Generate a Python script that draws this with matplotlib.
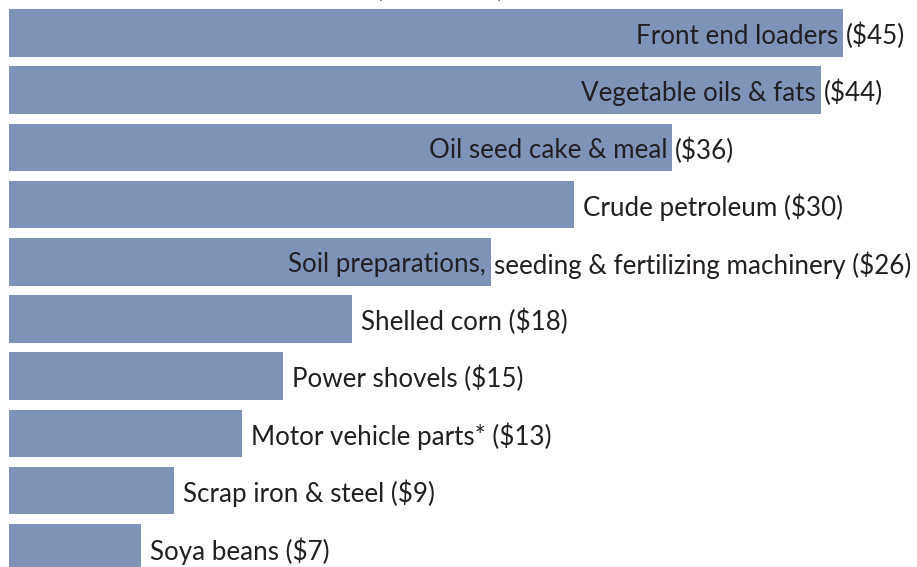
import matplotlib
matplotlib.use("Agg")
import matplotlib.pyplot as plt

# exports, $ millions (bar lengths, labels as printed)
inside = ["Front end loaders", "Vegetable oils & fats", "Oil seed cake & meal", "",
          "Soil preparations,", "", "", "", "", ""]
outside = ["($45)", "($44)", "($36)", "Crude petroleum ($30)",
           "seeding & fertilizing machinery ($26)", "Shelled corn ($18)",
           "Power shovels ($15)", "Motor vehicle parts* ($13)",
           "Scrap iron & steel ($9)", "Soya beans ($7)"]
values = [45.0, 43.8, 35.8, 30.5, 26.0, 18.5, 14.8, 12.6, 8.9, 7.1]

bar_color = "#7f93b9"
text_color = "#231f20"
plt.rcParams["font.family"] = ["Lato", "DejaVu Sans"]
fs = 18.7

W, H = 917, 567
fig = plt.figure(figsize=(W / 100, H / 100), dpi=100)
ax = fig.add_axes([0, 0, 1, 1])

px = 18.53          # pixels per dollar
x0 = 9              # left edge of bars in pixels
pitch = 57.2
top_center = 33
ax.set_xlim(-x0 / px, (W - x0) / px)
ax.set_ylim((H - top_center) / pitch, -top_center / pitch)
ax.axis("off")

ypos = list(range(len(values)))
ax.barh(ypos, values, height=0.83, color=bar_color)

dy = 3 / pitch  # nudge text down a little
for y, v, a, b in zip(ypos, values, inside, outside):
    if a:
        ax.text(v - 5 / px, y + dy, a, ha="right", va="center", fontsize=fs, color=text_color)
        ax.text(v + 3 / px, y + dy, b, ha="left", va="center", fontsize=fs, color=text_color)
    else:
        ax.text(v + 9 / px, y + dy, b, ha="left", va="center", fontsize=fs, color=text_color)

# subtitle, mostly above the crop
fig.text(440 / W, 1 + 3 / H, "(in millions)", ha="center", va="baseline",
         fontsize=fs, color=text_color)

fig.savefig("out.png", dpi=100)
